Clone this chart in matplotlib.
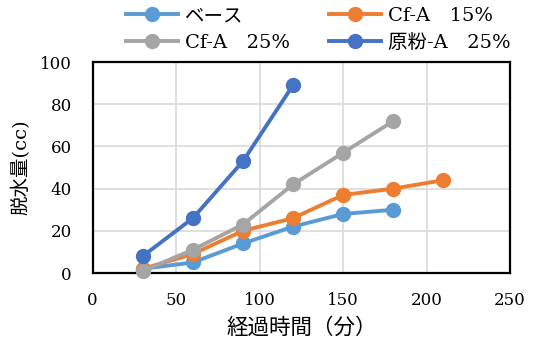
import matplotlib
matplotlib.use("Agg")
import matplotlib.pyplot as plt

plt.rcParams['font.family'] = ['DejaVu Serif', 'Noto Sans CJK JP']

# elapsed time (min) and dewatered volume (cc)
t_base = [30, 60, 90, 120, 150, 180]
v_base = [2, 5, 14, 22, 28, 30]
t_cf15 = [30, 60, 90, 120, 150, 180, 210]
v_cf15 = [2, 9, 20, 26, 37, 40, 44]
t_cf25 = [30, 60, 90, 120, 150, 180]
v_cf25 = [1, 11, 23, 42, 57, 72]
t_raw25 = [30, 60, 90, 120]
v_raw25 = [8, 26, 53, 89]

labels = ['ベース', 'Cf-A\u300015%', 'Cf-A\u300025%', '原粉-A\u300025%']
colors = ['#5B9BD5', '#ED7D31', '#A5A5A5', '#4472C4']

fig = plt.figure(figsize=(5.55, 3.43), dpi=100)
ax = fig.add_axes([0.167, 0.204, 0.752, 0.615])

series = [(t_base, v_base), (t_cf15, v_cf15), (t_cf25, v_cf25), (t_raw25, v_raw25)]
handles = []
for (x, y), lab, c in zip(series, labels, colors):
    h, = ax.plot(x, y, color=c, lw=2.8, marker='o', ms=10, label=lab,
                 clip_on=False, zorder=3)
    handles.append(h)

ax.set_xlim(0, 250)
ax.set_ylim(0, 100)
ax.set_xticks(range(0, 251, 50))
ax.set_yticks(range(0, 101, 20))
ax.grid(True, color='#d9d9d9', lw=1.2)
ax.set_axisbelow(True)
for s in ax.spines.values():
    s.set_color('black')
    s.set_linewidth(1.6)
ax.tick_params(length=0, labelsize=12)
ax.tick_params(axis='x', pad=14)
ax.tick_params(axis='y', pad=15)
ax.set_xlabel('経過時間（分）', fontsize=15.5, labelpad=5)
ax.set_ylabel('脱水量(cc)', fontsize=14, labelpad=7)

# row-wise legend order: matplotlib fills columns first
order = [0, 2, 1, 3]
fig.legend(handles=[handles[i] for i in order], labels=[labels[i] for i in order],
           ncol=2, loc='upper left', bbox_to_anchor=(0.195, 1.03),
           frameon=False, fontsize=14, handlelength=2.7, columnspacing=2.0,
           handletextpad=0.35, labelspacing=0.45)

fig.savefig('out.png', dpi=100)
